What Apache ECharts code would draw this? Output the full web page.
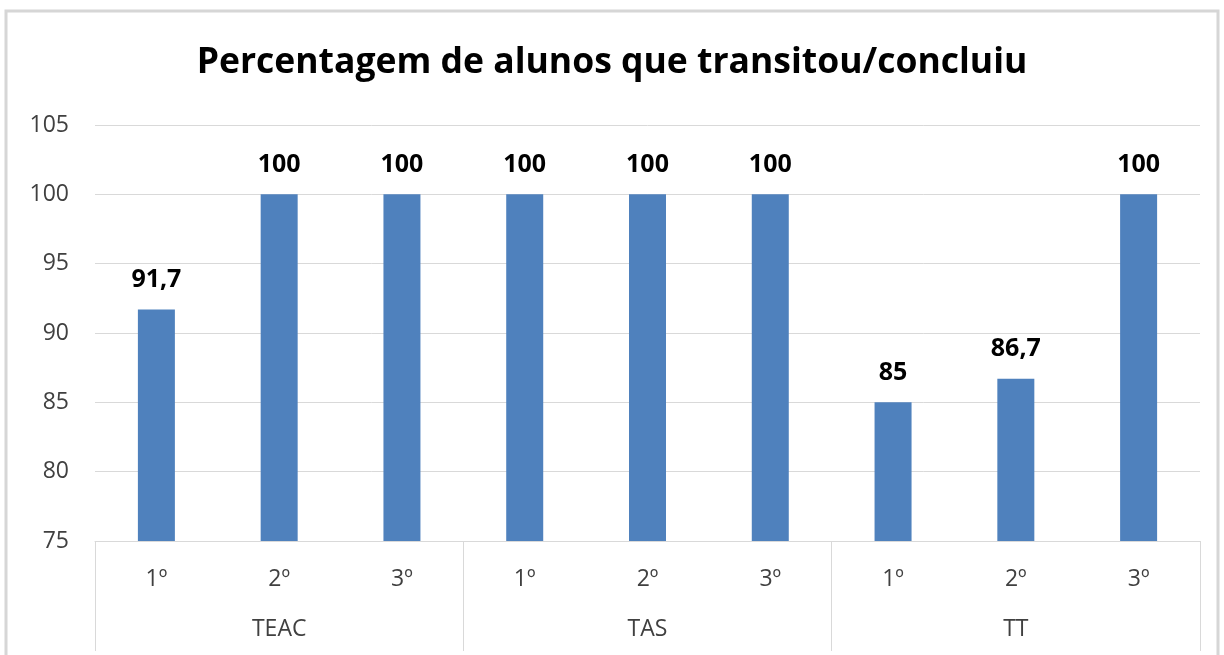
<!DOCTYPE html>
<html>
<head>
<meta charset="utf-8">
<script src="https://cdn.jsdelivr.net/npm/echarts@6/dist/echarts.min.js"></script>
<style>
  * { padding: 0; margin: 0; }
  html, body { width: 1224px; height: 655px; background: #fff; }
  #chart { width: 1224px; height: 655px; }
</style>
</head>
<body>
<div id="chart"></div>
<script>
const years = ['1º', '2º', '3º', '1º', '2º', '3º', '1º', '2º', '3º']
const courses = ['TEAC', 'TAS', 'TT']
const values = [91.7, 100, 100, 100, 100, 100, 85, 86.7, 100]
const yTicks = { min: 75, max: 105, interval: 5 }

const font = '"Open Sans", "Liberation Sans", sans-serif'
const charts = echarts.init(document.getElementById('chart'))
charts.setOption({
  backgroundColor: '#fff',
  animation: false,
  title: {
    text: 'Percentagem de alunos que transitou/concluiu',
    left: 'center',
    top: 40,
    textStyle: { fontFamily: font, fontSize: 35.5, fontWeight: 'bold', color: '#000' }
  },
  graphic: [{
    type: 'rect',
    shape: { x: 6, y: 11, width: 1212, height: 670 },
    style: { fill: 'none', stroke: '#d6d6d6', lineWidth: 3 }
  }],
  grid: { left: 95, right: 24, top: 125, bottom: 114 },
  xAxis: [
    {
      type: 'category',
      data: years,
      axisLine: { lineStyle: { color: '#d9d9d9', width: 1 } },
      axisTick: { show: false },
      axisLabel: { margin: 27, fontFamily: font, fontSize: 23, color: '#404040' }
    },
    {
      type: 'category',
      data: courses,
      position: 'bottom',
      axisLine: { show: false },
      axisTick: { show: true, length: 110, lineStyle: { color: '#d9d9d9' } },
      axisLabel: { margin: 77, fontFamily: font, fontSize: 23, color: '#404040' }
    }
  ],
  yAxis: {
    type: 'value',
    min: yTicks.min,
    max: yTicks.max,
    interval: yTicks.interval,
    axisLine: { show: false },
    axisTick: { show: false },
    splitLine: { lineStyle: { color: '#d9d9d9' } },
    axisLabel: { margin: 26, fontFamily: font, fontSize: 23, color: '#404040' }
  },
  series: [{
    type: 'bar',
    data: values,
    barWidth: 37,
    itemStyle: { color: '#4f81bd' },
    label: {
      show: true,
      position: 'top',
      distance: 17,
      fontFamily: font,
      fontSize: 25,
      fontWeight: 'bold',
      color: '#000',
      formatter: p => String(p.value).replace('.', ',')
    }
  }]
})
</script>
</body>
</html>
